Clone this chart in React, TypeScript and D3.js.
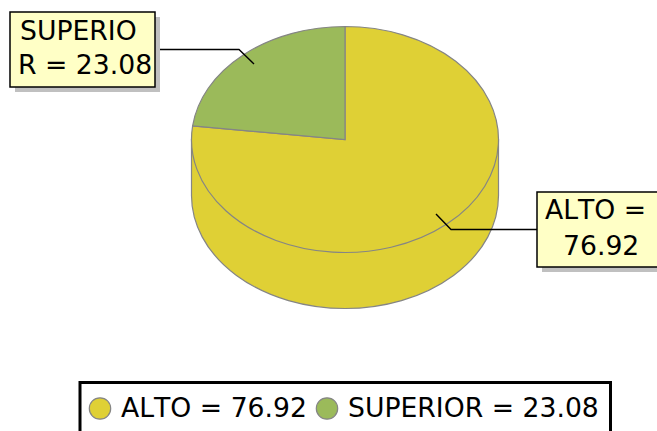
import * as d3 from "d3";
import React, { useEffect, useRef } from "react";

const categories = ["ALTO", "SUPERIOR"];
const values = [76.92, 23.08];
const colors = ["#dfd035", "#9bba5a"];
const calloutLines = [
  ["ALTO =", "76.92"],
  ["SUPERIO", "R = 23.08"],
];

const FONT = "'DejaVu Sans', sans-serif";
const FONT_SIZE = 26.67;
const outline = "#858585";

const App = () => {
  const svgRef = useRef<SVGSVGElement | null>(null);

  useEffect(() => {
    const svg = d3.select(svgRef.current);
    svg.selectAll("*").remove();

    const cx = 345;
    const cy = 139.5;
    const rx = 153.5;
    const ry = 113;
    const depth = 56;

    const slices = d3.pie<number>().sort(null)(values);
    const arc = d3.arc<d3.PieArcDatum<number>>().innerRadius(0).outerRadius(rx);

    // side wall of the cylinder
    svg
      .append("path")
      .attr(
        "d",
        `M${cx + rx},${cy}V${cy + depth}A${rx},${ry} 0 0 1 ${cx - rx},${cy + depth}V${cy}Z`
      )
      .attr("fill", colors[0])
      .attr("stroke", outline)
      .attr("stroke-width", 1.2);

    // top face, d3 arcs squashed into an ellipse
    svg
      .append("g")
      .attr("transform", `translate(${cx},${cy}) scale(1,${ry / rx})`)
      .selectAll("path")
      .data(slices)
      .enter()
      .append("path")
      .attr("d", (d) => arc(d))
      .attr("fill", (d) => colors[d.index])
      .attr("stroke", outline)
      .attr("stroke-width", 1.2)
      .attr("vector-effect", "non-scaling-stroke");

    // callouts
    const callouts = [
      {
        box: [537, 192, 130, 75],
        line: [[537, 229.5], [451, 229.5], [436, 214]],
        text: [[545, 219], [563, 255]],
      },
      {
        box: [10, 12, 145, 75],
        line: [[160, 49.5], [239, 49.5], [254, 64]],
        text: [[20, 40], [18, 74]],
      },
    ];

    const lineGen = d3.line();
    callouts.forEach((c, i) => {
      const [x, y, w, h] = c.box;
      svg
        .append("path")
        .attr("d", lineGen(c.line as [number, number][]))
        .attr("fill", "none")
        .attr("stroke", "#000")
        .attr("stroke-width", 1.4);
      svg
        .append("rect")
        .attr("x", x + 5)
        .attr("y", y + 5)
        .attr("width", w)
        .attr("height", h)
        .attr("fill", "#c0c0c0");
      svg
        .append("rect")
        .attr("x", x)
        .attr("y", y)
        .attr("width", w)
        .attr("height", h)
        .attr("fill", "#ffffc6")
        .attr("stroke", "#000")
        .attr("stroke-width", 1.5);
      calloutLines[i].forEach((t, j) => {
        svg
          .append("text")
          .attr("x", c.text[j][0])
          .attr("y", c.text[j][1])
          .attr("font-family", FONT)
          .attr("font-size", FONT_SIZE)
          .style("font-kerning", "none")
          .attr("fill", "#000")
          .text(t);
      });
    });

    // legend
    svg
      .append("rect")
      .attr("x", 80)
      .attr("y", 382.5)
      .attr("width", 530.5)
      .attr("height", 70)
      .attr("fill", "#fff")
      .attr("stroke", "#000")
      .attr("stroke-width", 3);

    const legendX = [100, 327];
    categories.forEach((name, i) => {
      svg
        .append("circle")
        .attr("cx", legendX[i])
        .attr("cy", 408.5)
        .attr("r", 10.7)
        .attr("fill", colors[i])
        .attr("stroke", outline)
        .attr("stroke-width", 1.2);
      svg
        .append("text")
        .attr("x", legendX[i] + 21)
        .attr("y", 417)
        .attr("font-family", FONT)
        .attr("font-size", FONT_SIZE)
        .style("font-kerning", "none")
        .attr("fill", "#000")
        .text(`${name} = ${values[i]}`);
    });
  }, []);

  return (
    <svg
      ref={svgRef}
      width="657"
      height="431"
      style={{ position: "absolute", left: 0, top: 0 }}
    ></svg>
  );
};

export default App;
